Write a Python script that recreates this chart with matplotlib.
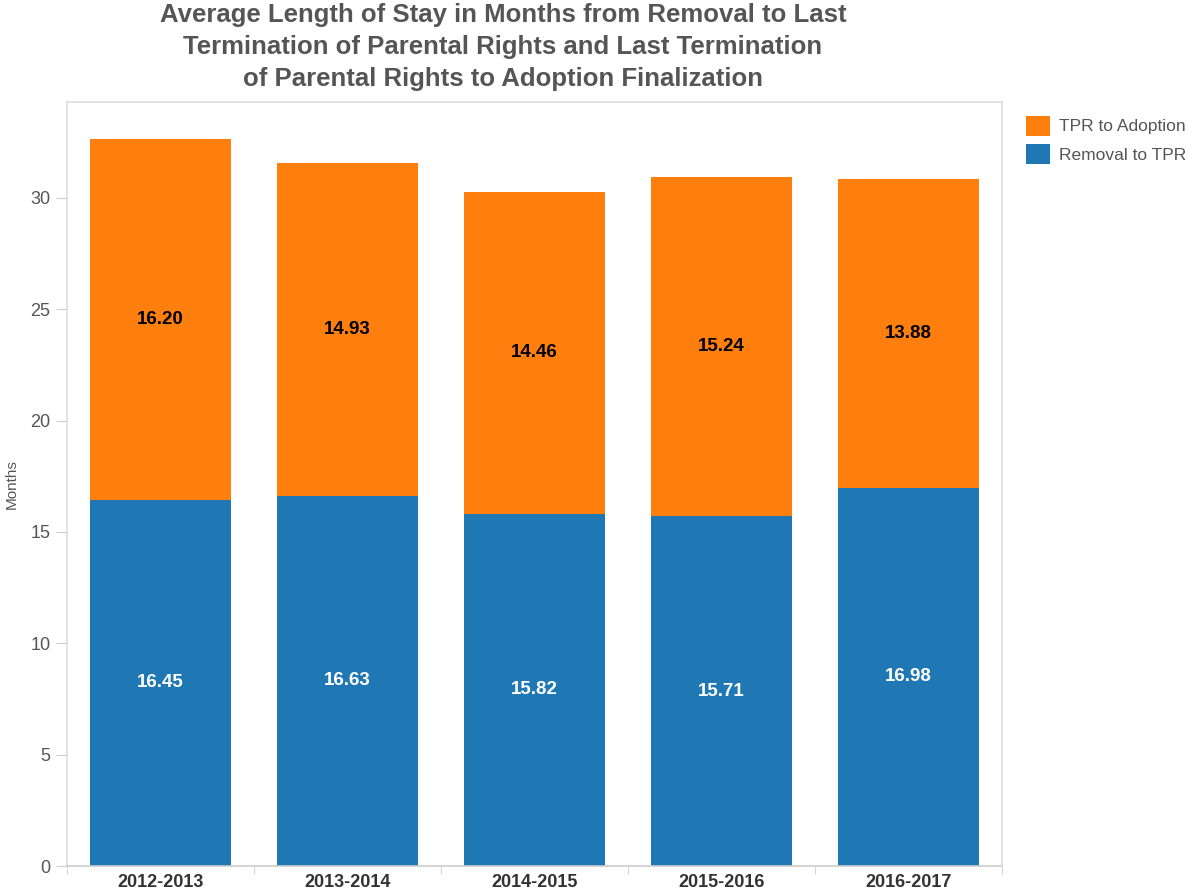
import numpy as np
import matplotlib.pyplot as plt

years = ["2012-2013", "2013-2014", "2014-2015", "2015-2016", "2016-2017"]
removal_to_tpr = [16.45, 16.63, 15.82, 15.71, 16.98]
tpr_to_adoption = [16.20, 14.93, 14.46, 15.24, 13.88]

blue = "#1f77b4"
orange = "#ff7f0e"

fig = plt.figure(figsize=(12.02, 8.96), dpi=100)
ax = fig.add_axes([67 / 1202, 1 - 866 / 896, (1002 - 67) / 1202, (866 - 102) / 896])

x = np.arange(len(years))
b1 = ax.bar(x, removal_to_tpr, width=0.75, color=blue, label="Removal to TPR")
b2 = ax.bar(x, tpr_to_adoption, width=0.75, bottom=removal_to_tpr, color=orange,
            label="TPR to Adoption")

for i in range(len(years)):
    ax.text(x[i], removal_to_tpr[i] / 2, f"{removal_to_tpr[i]:.2f}", ha="center",
            va="center", color="white", fontsize=13.5, fontweight="bold", family="Liberation Sans")
    ax.text(x[i], removal_to_tpr[i] + tpr_to_adoption[i] / 2, f"{tpr_to_adoption[i]:.2f}",
            ha="center", va="center", color="black", fontsize=13.5, fontweight="bold",
            family="Liberation Sans")

ax.set_xlim(-0.5, len(years) - 0.5)
ax.set_ylim(0, 34.3)
ax.set_yticks([0, 5, 10, 15, 20, 25, 30])
ax.set_xticks(x)
ax.set_xticklabels(years, fontsize=13, fontweight="bold", color="#333333", family="Liberation Sans")
ax.set_xticks(np.arange(len(years) + 1) - 0.5, minor=True)
ax.tick_params(axis="x", which="major", length=0, pad=6)
ax.tick_params(axis="x", which="minor", length=6, color="#cccccc", direction="out")
ax.tick_params(axis="y", length=8, color="#cccccc", labelsize=13, labelcolor="#555555", pad=4)
for lab in ax.get_yticklabels():
    lab.set_family("Liberation Sans")

for s in ax.spines.values():
    s.set_color("#dddddd")
    s.set_linewidth(1.2)
ax.spines["bottom"].set_color("#cccccc")

ax.set_ylabel("Months", fontsize=11, color="#555555", family="Liberation Sans")
ax.yaxis.set_label_coords(-48 / 935, 0.5)

fig.suptitle("Average Length of Stay in Months from Removal to Last\n"
             "Termination of Parental Rights and Last Termination\n"
             "of Parental Rights to Adoption Finalization",
             x=503 / 1202, y=1 - 3 / 896, fontsize=18.5, fontweight="bold", color="#555555",
             family="Liberation Sans", linespacing=1.42)

handles = [b2, b1]
fig.legend(handles, [h.get_label() for h in handles], loc="upper left",
           bbox_to_anchor=(1010 / 1202, 1 - 100 / 896), frameon=False,
           handlelength=1.4, handleheight=1.4, handletextpad=0.55, labelspacing=0.5,
           prop={"family": "Liberation Sans", "size": 12.5}, labelcolor="#555555")

fig.savefig("out.png", dpi=100)
